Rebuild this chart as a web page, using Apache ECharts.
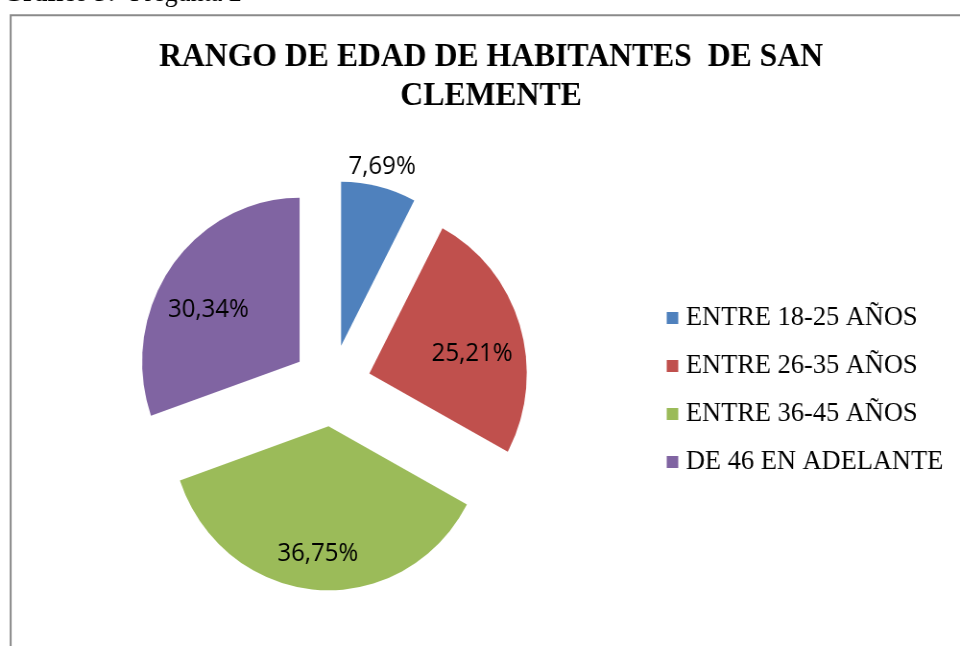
<!DOCTYPE html>
<html>
<head>
<meta charset="utf-8">
<script src="https://cdn.jsdelivr.net/npm/echarts@6/dist/echarts.min.js"></script>
<style>
  html, body { margin: 0; padding: 0; overflow: hidden; background: #fff; }
  /* the source picture is a little squeezed sideways, so is this one */
  #chart { width: 1000px; height: 646px; transform: scaleX(0.96); transform-origin: 0 0; }
</style>
</head>
<body>
<div id="chart"></div>
<script>
  const categories = ['ENTRE 18-25 AÑOS', 'ENTRE 26-35 AÑOS', 'ENTRE 36-45 AÑOS', 'DE 46 EN ADELANTE']
  const shares = [7.69, 25.21, 36.75, 30.34]
  const colors = ['#4F81BD', '#C0504D', '#9BBB59', '#8064A2']

  const center = [345.5, 385.5]
  const radius = 164
  const explode = 41

  const pct = p => p.value.toFixed(2).replace('.', ',') + '%'

  // small slices get their label above the slice, the rest inside
  const isSmall = v => v < 10

  const labelFont = {
    fontFamily: 'Open Sans',
    fontSize: 25,
    color: '#000'
  }

  const serif = 'Liberation Serif'

  const overlay = {
    type: 'pie',
    center: center,
    startAngle: 90,
    z: 5,
    silent: true,
    selectedMode: false,
    itemStyle: { color: 'rgba(0,0,0,0)' },
    labelLine: { show: false },
    emphasis: { disabled: true },
    tooltip: { show: false }
  }

  const chart = echarts.init(document.getElementById('chart'))

  chart.setOption({
    animation: false,
    color: colors,
    legend: {
      data: categories,
      orient: 'vertical',
      left: 694.5,
      top: 304,
      padding: 0,
      icon: 'rect',
      itemWidth: 12,
      itemHeight: 12,
      itemGap: 20,
      textStyle: {
        fontFamily: serif,
        fontSize: 27.5,
        color: '#000',
        padding: [0, 0, 0, 3]
      }
    },
    graphic: [
      {
        type: 'rect',
        silent: true,
        shape: { x: 11.1, y: 15.3, width: 1200, height: 900 },
        style: { fill: null, stroke: '#8a8a8a', lineWidth: 2 }
      },
      {
        // caption above the frame, mostly cut off by the page edge
        type: 'text',
        silent: true,
        x: 3,
        y: -5.8,
        style: {
          text: 'Gráfico 3:',
          fontFamily: serif,
          fontSize: 27,
          fontWeight: 'bold',
          fill: '#000',
          verticalAlign: 'middle'
        }
      },
      {
        type: 'text',
        silent: true,
        x: 135.5,
        y: -5.8,
        style: {
          text: 'Pregunta 2',
          fontFamily: serif,
          fontSize: 27,
          fontWeight: 'normal',
          fill: '#000',
          verticalAlign: 'middle'
        }
      },
      {
        // chart title
        type: 'text',
        silent: true,
        x: 511.5,
        y: 37.5,
        style: {
          text: 'RANGO DE EDAD DE HABITANTES  DE SAN\nCLEMENTE',
          fontFamily: serif,
          fontSize: 33,
          fontWeight: 'bold',
          lineHeight: 39,
          fill: '#000',
          align: 'center',
          verticalAlign: 'top'
        }
      }
    ],
    series: [
      {
        name: 'Rango de edad',
        type: 'pie',
        center: center,
        radius: radius,
        startAngle: 90,
        selectedMode: 'multiple',
        selectedOffset: explode,
        label: { show: false },
        labelLine: { show: false },
        emphasis: { scale: false },
        itemStyle: { borderWidth: 0 },
        data: categories.map((name, i) => ({ name, value: shares[i], selected: true }))
      },
      Object.assign({}, overlay, {
        // inside labels, roughly two thirds out along each exploded slice
        radius: 2 * (explode + 111),
        label: Object.assign({ show: true, position: 'inside', formatter: pct, offset: [-2, 14] }, labelFont),
        data: categories.map((name, i) => ({
          name,
          value: shares[i],
          label: { show: !isSmall(shares[i]) }
        }))
      }),
      Object.assign({}, overlay, {
        // label that sits just above the small slice
        radius: 2 * (explode + radius + 20),
        label: Object.assign({ show: true, position: 'inside', formatter: pct, offset: [-2, 3] }, labelFont),
        data: categories.map((name, i) => ({
          name,
          value: shares[i],
          label: { show: isSmall(shares[i]) }
        }))
      })
    ]
  })
</script>
</body>
</html>
